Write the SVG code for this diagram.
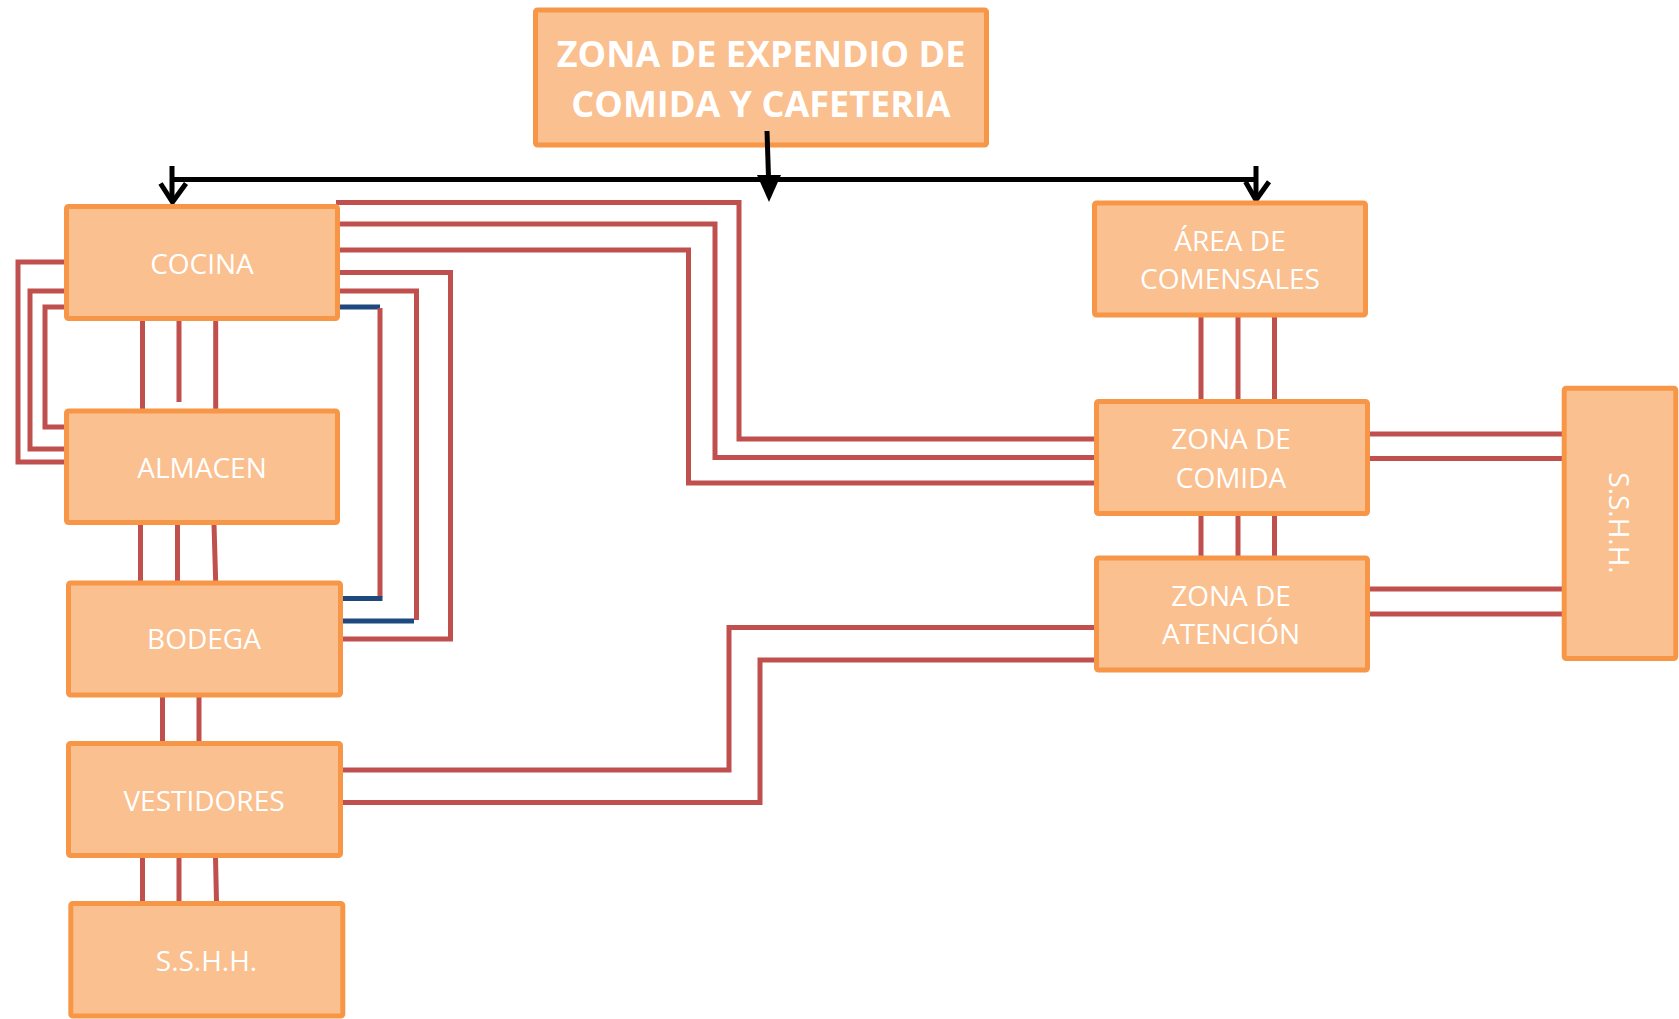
<svg xmlns="http://www.w3.org/2000/svg" width="1679" height="1019" viewBox="0 0 1679 1019">
<style>
.box{fill:#FAC090;stroke:#F79646;stroke-width:5}
.lbl{font-family:"Open Sans","Noto Sans","Liberation Sans",sans-serif;font-size:28px;fill:#FFFFFF;text-anchor:middle}
.ttl{font-family:"Open Sans","Noto Sans","Liberation Sans",sans-serif;font-size:36px;font-weight:bold;fill:#FFFFFF;text-anchor:middle}
.r{fill:none;stroke:#C0504D;stroke-width:5}
.b{fill:none;stroke:#1F497D;stroke-width:5}
.k{fill:none;stroke:#000000;stroke-width:5}
</style>
<rect width="1679" height="1019" fill="#FFFFFF"/>
<g id="node-top">
<rect class="box" x="535.5" y="10" width="451" height="135" rx="2"/>
<text class="ttl" x="761" y="66.5">ZONA DE EXPENDIO DE</text>
<text class="ttl" x="761" y="117.3">COMIDA Y CAFETERIA</text>
</g>
<g id="connectors">
<!-- left loops COCINA-ALMACEN -->
<path class="r" d="M64 262 H18 V462 H64"/>
<path class="r" d="M64 291 H30 V449 H64"/>
<path class="r" d="M64 307 H45 V427 H64"/>
<!-- vertical COCINA-ALMACEN -->
<path class="r" d="M142.5 320 V410 M179 320 V402 M215.7 320 V410"/>
<!-- ALMACEN-BODEGA -->
<path class="r" d="M140.5 524 V582 M177.5 524 V582 M214 524 L215.7 582"/>
<!-- BODEGA-VESTIDORES -->
<path class="r" d="M162.5 696 V742 M199 696 V742"/>
<!-- VESTIDORES-SSHH -->
<path class="r" d="M142.5 857 V902 M179 857 V902 M215.5 857 L216.5 902"/>
<!-- COCINA to ZONA DE COMIDA -->
<path class="r" d="M336 202.5 H739 V439 H1094"/>
<path class="r" d="M340 224 H715 V457.5 H1094"/>
<path class="r" d="M340 250 H688.5 V483 H1094"/>
<!-- COCINA to BODEGA -->
<path class="r" d="M340 272.5 H450.5 V639 H342"/>
<path class="r" d="M340 291 H416.5 V620"/>
<path class="b" d="M342 621 H414"/>
<path class="b" d="M340 307 H380"/>
<path class="r" d="M380 308 V597"/>
<path class="b" d="M342 598.5 H382.5"/>
<!-- VESTIDORES to ZONA DE ATENCION -->
<path class="r" d="M342 770 H729 V627.5 H1094"/>
<path class="r" d="M342 802.5 H760 V660 H1094"/>
<!-- right column -->
<path class="r" d="M1201 316 V400 M1238 316 V400 M1274.5 316 V400"/>
<path class="r" d="M1201 514 V557 M1238 514 V557 M1274.5 514 V557"/>
<path class="r" d="M1368 434 H1563 M1368 458.5 H1563"/>
<path class="r" d="M1368 589 H1563 M1368 614 H1563"/>
<!-- black distribution arrows -->
<path class="k" d="M172 179.5 H1256"/>
<path class="k" d="M172 166 V200"/>
<path class="k" d="M160.5 183.5 L172.5 202 L186 183.5"/>
<path class="k" d="M1256 166 V198"/>
<path class="k" d="M1245.5 181.7 L1256 200 L1269 181.7"/>
<path class="k" d="M767 131 L768.6 180"/>
<polygon points="757,175 781,175 769,202" fill="#000000"/>
</g>
<g id="node-cocina">
<rect class="box" x="66.5" y="206.5" width="271" height="112" rx="2"/>
<text class="lbl" x="202" y="273.5">COCINA</text>
</g>
<g id="node-almacen">
<rect class="box" x="66.5" y="411" width="271" height="111.5" rx="2"/>
<text class="lbl" x="202" y="477.5">ALMACEN</text>
</g>
<g id="node-bodega">
<rect class="box" x="68.5" y="583" width="272" height="112" rx="2"/>
<text class="lbl" x="204" y="649.3">BODEGA</text>
</g>
<g id="node-vestidores">
<rect class="box" x="68.5" y="743.5" width="272" height="112" rx="2"/>
<text class="lbl" x="204" y="810.7">VESTIDORES</text>
</g>
<g id="node-sshh-1">
<rect class="box" x="70.8" y="903.5" width="272" height="112.5" rx="2"/>
<text class="lbl" x="206.5" y="970.7">S.S.H.H.</text>
</g>
<g id="node-comensales">
<rect class="box" x="1094.5" y="203" width="271" height="112" rx="2"/>
<text class="lbl" x="1230" y="250.7">ÁREA DE</text>
<text class="lbl" x="1230" y="289.3">COMENSALES</text>
</g>
<g id="node-comida">
<rect class="box" x="1096.5" y="401.5" width="271" height="112" rx="2"/>
<text class="lbl" x="1231" y="449.3">ZONA DE</text>
<text class="lbl" x="1231" y="488.3">COMIDA</text>
</g>
<g id="node-atencion">
<rect class="box" x="1096.5" y="558" width="271" height="112" rx="2"/>
<text class="lbl" x="1231" y="606">ZONA DE</text>
<text class="lbl" x="1231" y="644.3">ATENCIÓN</text>
</g>
<g id="node-sshh-2">
<rect class="box" x="1564.2" y="388.2" width="111.6" height="270.3" rx="2"/>
<text class="lbl" transform="translate(1619,523) rotate(90)" x="0" y="10.5">S.S.H.H.</text>
</g>
</svg>
